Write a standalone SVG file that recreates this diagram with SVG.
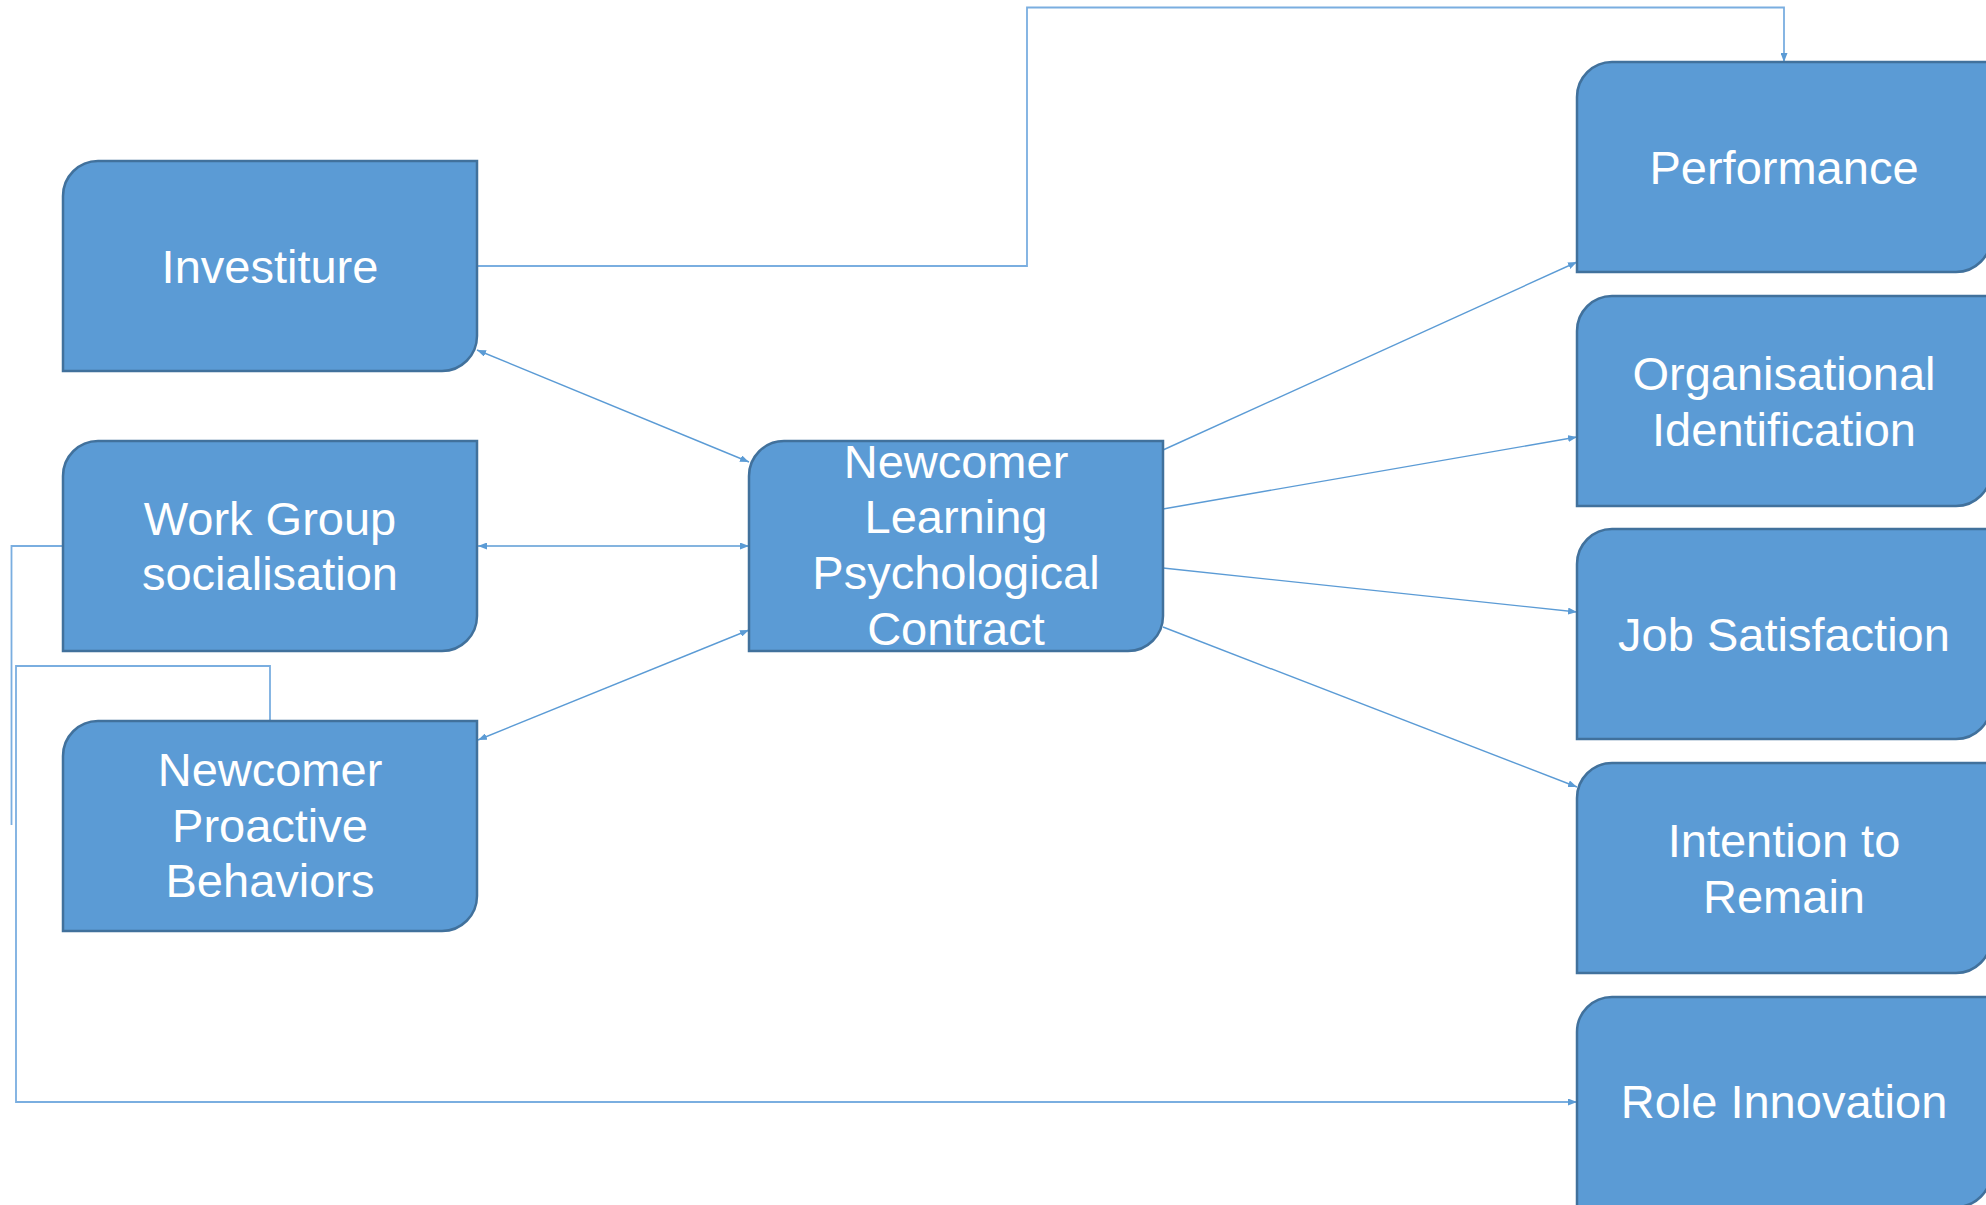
<svg xmlns="http://www.w3.org/2000/svg" width="1986" height="1205" viewBox="0 0 1986 1205">
<style>
.box{fill:#5B9BD5;stroke:#41719C;stroke-width:2.5}
.lbl{font-family:"Liberation Sans",Arial,sans-serif;font-size:47px;fill:#FFFFFF;text-anchor:middle}
.c{fill:none;stroke:#5B9BD5;stroke-width:1.4}
.e{fill:none;stroke:#7AAEE0;stroke-width:1.8}
</style>
<defs>
<marker id="ah" markerUnits="userSpaceOnUse" markerWidth="9" markerHeight="7" refX="9" refY="3.5" orient="auto-start-reverse">
<path d="M0,0 L9,3.5 L0,7 z" fill="#5B9BD5"/>
</marker>
</defs>
<rect width="1986" height="1205" fill="#FFFFFF"/>
<g id="connectors">
<path class="c" d="M477,350 L749,462" marker-start="url(#ah)" marker-end="url(#ah)"/>
<path class="c" d="M478,546 L749,546" marker-start="url(#ah)" marker-end="url(#ah)"/>
<path class="c" d="M478,740 L749,630" marker-start="url(#ah)" marker-end="url(#ah)"/>
<path class="e" d="M477,266 H1027 V7.5 H1784 V62" marker-end="url(#ah)"/>
<path class="c" d="M1163,450 L1577,262" marker-end="url(#ah)"/>
<path class="c" d="M1163,509 L1577,437" marker-end="url(#ah)"/>
<path class="c" d="M1163,568 L1577,612" marker-end="url(#ah)"/>
<path class="c" d="M1163,627 L1577,787" marker-end="url(#ah)"/>
<path class="e" d="M63,546 H11.5 V825"/>
<path class="e" d="M270,721 V666 H16 V1102 H1577" marker-end="url(#ah)"/>
</g>
<g id="investiture">
<path class="box" d="M98,161 H477 V336 A35,35 0 0 1 442,371 H63 V196 A35,35 0 0 1 98,161 Z"/>
<text class="lbl" x="270" y="283">Investiture</text>
</g>
<g id="work-group">
<path class="box" d="M98,441 H477 V616 A35,35 0 0 1 442,651 H63 V476 A35,35 0 0 1 98,441 Z"/>
<text class="lbl" x="270" y="535">Work Group</text>
<text class="lbl" x="270" y="590">socialisation</text>
</g>
<g id="proactive">
<path class="box" d="M98,721 H477 V896 A35,35 0 0 1 442,931 H63 V756 A35,35 0 0 1 98,721 Z"/>
<text class="lbl" x="270" y="786">Newcomer</text>
<text class="lbl" x="270" y="842">Proactive</text>
<text class="lbl" x="270" y="897">Behaviors</text>
</g>
<g id="central">
<path class="box" d="M784,441 H1163 V616 A35,35 0 0 1 1128,651 H749 V476 A35,35 0 0 1 784,441 Z"/>
<text class="lbl" x="956" y="478">Newcomer</text>
<text class="lbl" x="956" y="533">Learning</text>
<text class="lbl" x="956" y="589">Psychological</text>
<text class="lbl" x="956" y="645">Contract</text>
</g>
<g id="performance">
<path class="box" d="M1612,62 H1991 V237 A35,35 0 0 1 1956,272 H1577 V97 A35,35 0 0 1 1612,62 Z"/>
<text class="lbl" x="1784" y="184">Performance</text>
</g>
<g id="org-identification">
<path class="box" d="M1612,296 H1991 V471 A35,35 0 0 1 1956,506 H1577 V331 A35,35 0 0 1 1612,296 Z"/>
<text class="lbl" x="1784" y="390">Organisational</text>
<text class="lbl" x="1784" y="446">Identification</text>
</g>
<g id="job-satisfaction">
<path class="box" d="M1612,529 H1991 V704 A35,35 0 0 1 1956,739 H1577 V564 A35,35 0 0 1 1612,529 Z"/>
<text class="lbl" x="1784" y="651">Job Satisfaction</text>
</g>
<g id="intention">
<path class="box" d="M1612,763 H1991 V938 A35,35 0 0 1 1956,973 H1577 V798 A35,35 0 0 1 1612,763 Z"/>
<text class="lbl" x="1784" y="857">Intention to</text>
<text class="lbl" x="1784" y="913">Remain</text>
</g>
<g id="role-innovation">
<path class="box" d="M1612,997 H1991 V1172 A35,35 0 0 1 1956,1207 H1577 V1032 A35,35 0 0 1 1612,997 Z"/>
<text class="lbl" x="1784" y="1118">Role Innovation</text>
</g>
</svg>
